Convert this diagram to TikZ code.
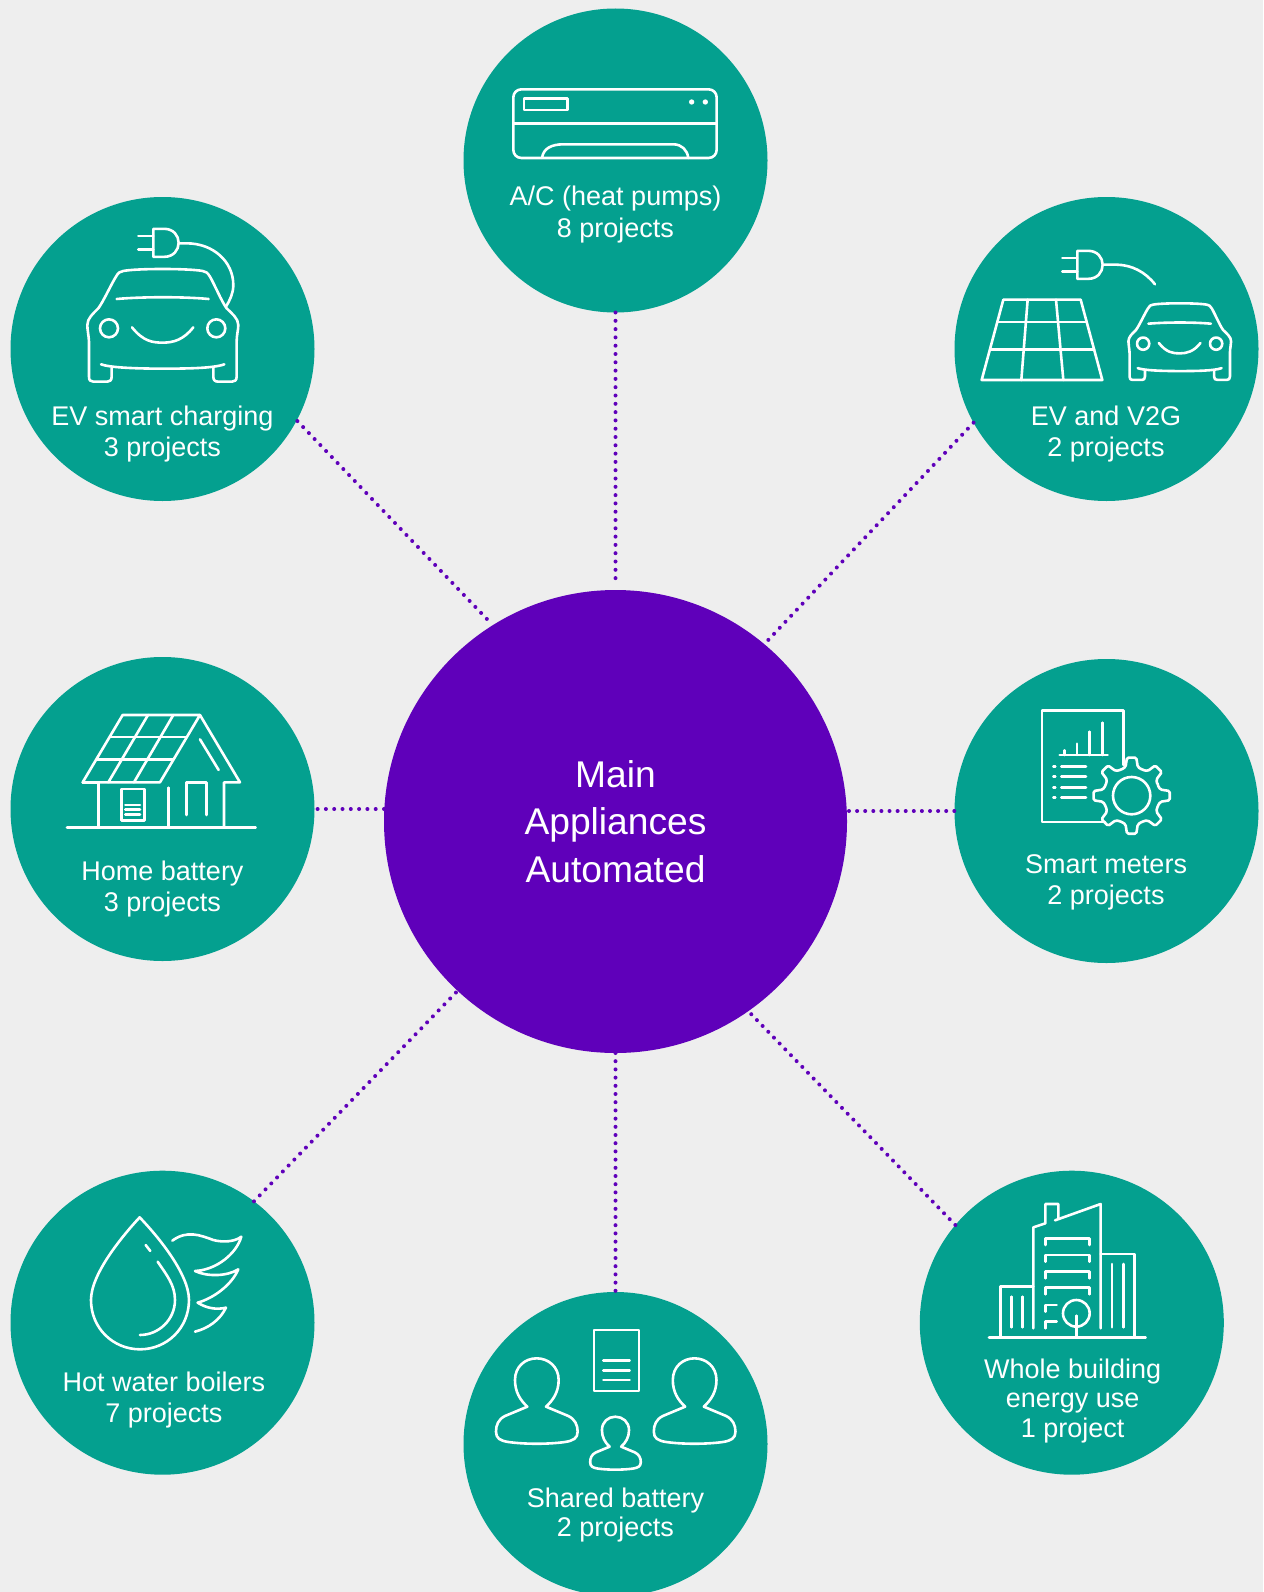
\documentclass[tikz,border=0pt]{standalone}
\usepackage{fontspec}
\setmainfont{Liberation Sans}
\usetikzlibrary{positioning}
\definecolor{pagegrey}{HTML}{EEEEEE}
\definecolor{appgreen}{HTML}{04A08F}
\definecolor{mainpurple}{HTML}{5F00BA}
\tikzset{
  hub/.style={circle, fill=mainpurple, text=white, minimum size=463pt, inner sep=0pt, outer sep=0pt, align=center,
    font=\fontsize{37.2}{47.3}\selectfont},
  appliance/.style={circle, fill=appgreen, minimum size=304pt, inner sep=0pt, outer sep=0pt},
  caption/.style={text=white, align=center, inner sep=0pt, font=\fontsize{27}{31.3}\selectfont},
  tightcaption/.style={caption, font=\fontsize{27}{29.6}\selectfont},
  link/.style={draw=mainpurple, line width=4pt, line cap=round, dash pattern=on 0pt off #1},
  link/.default=8.3pt,
  iconpart/.style={x=0.3333pt, y=-0.3333pt, white, line width=2.6pt, line cap=round, line join=round},
  carface/.pic={
    \begin{scope}[shift={(-458,-389)}]
      \draw (305,518) -- (305,545) .. controls (305,556) and (300,560) .. (292,560) -- (250,560)
        .. controls (241,560) and (237,556) .. (237,545) -- (237,440)
        .. controls (236,420) and (232,405) .. (232,390) .. controls (232,370) and (250,355) .. (265,340)
        .. controls (280,320) and (305,265) .. (318,245) .. controls (325,232) and (330,230) .. (340,228)
        .. controls (380,220) and (535,220) .. (578,228) .. controls (588,230) and (592,232) .. (600,245)
        .. controls (612,265) and (635,320) .. (650,340) .. controls (665,355) and (685,370) .. (685,390)
        .. controls (685,405) and (680,420) .. (680,440) -- (680,545)
        .. controls (680,556) and (675,560) .. (666,560) -- (625,560)
        .. controls (615,560) and (610,556) .. (610,545) -- (610,518);
      \draw (320,312) .. controls (400,305) and (520,305) .. (596,312);
      \draw (297,400) circle (27);
      \draw (619,400) circle (27);
      \draw (366,397) .. controls (400,440) and (430,443) .. (458,443) .. controls (490,443) and (520,435) .. (550,397);
      \draw (273,508) .. controls (300,518) and (380,521) .. (458,521) .. controls (530,521) and (610,520) .. (643,508);
    \end{scope}
  },
  plughead/.pic={
    \draw (0,-42) -- (33,-42) .. controls (60,-42) and (76,-22) .. (76,0) .. controls (76,22) and (60,42) .. (33,42) -- (0,42) -- cycle;
    \draw (-45,-20) -- (0,-20);
    \draw (-45,20) -- (0,20);
  },
  person/.pic={
    \begin{scope}[shift={(-215.5,-333)}]
      \draw (187,350) .. controls (165,330) and (150,305) .. (150,270) .. controls (150,230) and (180,205) .. (215,205)
        .. controls (250,205) and (281,230) .. (281,270) .. controls (281,305) and (265,330) .. (243,350) -- (310,378)
        .. controls (330,388) and (338,405) .. (338,425) .. controls (338,445) and (325,452) .. (300,456)
        .. controls (250,463) and (180,463) .. (130,456) .. controls (105,452) and (93,445) .. (93,425)
        .. controls (93,405) and (100,388) .. (120,378) -- cycle;
    \end{scope}
  }
}
\begin{document}
\begin{tikzpicture}[x=1pt, y=-1pt]
  \fill[pagegrey] (0,0) rectangle (1263,1592);
  \useasboundingbox (0,0) rectangle (1263,1592);

  \node[hub] (main) at (615.5,821.5) {Main\\Appliances\\Automated};
  \node[appliance, above=277.5pt of main] (accool) {};
  \node[appliance, below=239pt of main] (shared) {};
  \node[appliance, left=69.5pt of main, yshift=12.5pt] (homebatt) {};
  \node[appliance, right=107.5pt of main, yshift=10.5pt] (meters) {};
  \node[appliance, above=156pt of homebatt] (evcharge) {};
  \node[appliance, above=158pt of meters] (evgrid) {};
  \node[appliance, below=209.7pt of homebatt] (boilers) {};
  \node[appliance, below=207.7pt of meters, xshift=-34.7pt] (building) {};

  \node[caption] (accooltext) at (615.5,214.5) {A/C (heat pumps)\\8 projects};
  \node[caption] (evchargetext) at (162.5,434) {EV smart charging\\3 projects};
  \node[caption] (evgridtext) at (1106,434) {EV and V2G\\2 projects};
  \node[caption] (homebatttext) at (162.5,889) {Home battery\\3 projects};
  \node[caption] (meterstext) at (1106,882.5) {Smart meters\\2 projects};
  \node[caption] (boilerstext) at (164,1400) {Hot water boilers\\7 projects};
  \node[tightcaption] (sharedtext) at (615.5,1515) {Shared battery\\2 projects};
  \node[tightcaption] (buildingtext) at (1072.7,1401) {Whole building\\energy use\\1 project};

  \draw[link, shorten >=9pt] (accool.south) -- (main.north);
  \draw[link, shorten >=6pt, shorten <=1pt] (evcharge.-28.7) -- (main.122.5);
  \draw[link] (evgrid.209.5) -- (main.50.4);
  \draw[link] (homebatt.east -| main.west) -- (homebatt.east);
  \draw[link=8.1pt, shorten <=2pt] (meters.west -| main.east) -- (meters.west);
  \draw[link] (boilers.53) -- (main.227.2);
  \draw[link=8.2pt] (main.south) -- (shared.north);
  \draw[link=8.15pt] (building.140) -- (main.-55);

  % air conditioner
  \begin{scope}[shift={(460,0)}, iconpart]
    \draw[rounded corners=8pt] (160,268) rectangle (770,474);
    \draw (192,296) rectangle (322,330);
    \draw (160,371) -- (770,371);
    \fill (695,306) circle (8);
    \fill (736,306) circle (8);
    \draw (246,474) .. controls (250,445) and (275,433) .. (310,433) -- (640,433) .. controls (665,433) and (682,450) .. (685,474);
  \end{scope}

  % car on charge
  \begin{scope}[shift={(10,195)}, iconpart]
    \pic at (458,389) {carface};
    \pic at (430,143.5) {plughead};
    \draw (506,145) -- (530,145) .. controls (610,145) and (670,200) .. (670,270) .. controls (670,295) and (660,315) .. (648,335);
  \end{scope}

  % panel and car
  \begin{scope}[shift={(950,195)}, iconpart]
    \pic[scale=0.68] at (689,438.5) {carface};
    \pic at (382,209.5) {plughead};
    \draw (462,209) -- (500,209) .. controls (545,210) and (585,230) .. (615,268);
    \draw (160,314) -- (392,314) -- (457,555) -- (95,555) -- cycle;
    \draw (143,381) -- (410,381);
    \draw (122,464) -- (432,464);
    \draw (233,314) -- (214,555);
    \draw (318,314) -- (340,555);
  \end{scope}

  % house
  \begin{scope}[shift={(10,655)}, iconpart]
    \draw (171,518) -- (737,518);
    \draw (338,180) -- (570,180) -- (450,382) -- (218,382) -- cycle;
    \draw (300,246) -- (528,246);
    \draw (260,314) -- (488,314);
    \draw (414,180) -- (295,382);
    \draw (490,180) -- (372,382);
    \draw (570,180) -- (690,382) -- (642,382) -- (642,518);
    \draw (218,382) -- (265,382) -- (265,518);
    \draw (570,253) -- (626,345);
    \draw (529,480) -- (529,382) -- (590,382) -- (590,480);
    \draw (476,398) -- (476,518);
    \draw (334,402) rectangle (404,496);
    \foreach \liney in {450,464,479}
      \draw (346,\liney) -- (390,\liney);
  \end{scope}

  % report and gear
  \begin{scope}[shift={(950,655)}, iconpart]
    \draw (521,330) -- (521,167) -- (276,167) -- (276,501) -- (465,501);
    \draw (329,300) -- (473,300);
    \draw (344,286) -- (344,300);
    \draw (381,266) -- (381,300);
    \draw (419,230) -- (419,300);
    \draw (457,203) -- (457,300);
    \foreach \liney in {334,364,397,427} {
      \draw (310,\liney) -- (316,\liney);
      \draw (334,\liney) -- (408,\liney);
    }
    \begin{scope}[shift={(545,422)}]
      \draw (0,0) circle (56);
      \draw[rounded corners=1.5pt] (-22.5:84) \foreach \a in {0,45,...,315} {
        -- (\a-12:88) -- (\a-7:115) -- (\a+7:115) -- (\a+12:88) -- (\a+22.5:84)} -- cycle;
    \end{scope}
  \end{scope}

  % drop and flames
  \begin{scope}[shift={(10,1170)}, iconpart]
    \draw (389,142) .. controls (440,195) and (537,310) .. (537,390) .. controls (537,475) and (470,538) .. (390,538)
      .. controls (310,538) and (243,475) .. (243,390) .. controls (243,310) and (340,195) .. (389,142) -- cycle;
    \draw (407,225) -- (421,243);
    \draw (443,275) .. controls (470,315) and (495,345) .. (495,390) .. controls (495,450) and (445,495) .. (390,495);
    \draw (487,212) .. controls (530,180) and (570,195) .. (610,210) .. controls (640,218) and (675,215) .. (694,200)
      .. controls (680,250) and (620,300) .. (555,303) .. controls (590,320) and (650,320) .. (685,298)
      .. controls (665,345) and (610,385) .. (563,398) .. controls (590,415) and (620,420) .. (648,413)
      .. controls (630,450) and (595,475) .. (555,485);
  \end{scope}

  % people and document
  \begin{scope}[shift={(465,1290)}, iconpart]
    \draw (387,120) rectangle (522,303);
    \foreach \liney in {212,241,270}
      \draw (415,\liney) -- (494,\liney);
    \pic at (215.5,333) {person};
    \pic at (689,333) {person};
    \pic[scale=0.62] at (451.5,459.5) {person};
  \end{scope}

  % buildings
  \begin{scope}[shift={(915,1170)}, iconpart]
    \draw (222,502) -- (692,502);
    \draw (257,502) -- (257,349) -- (355,349);
    \draw (355,475) -- (355,172) -- (391,160) -- (391,102) -- (430,102) -- (430,146);
    \draw (420,151) -- (557,102) -- (557,475);
    \draw (557,252) -- (659,252) -- (659,502);
    \draw (289,380) -- (289,472);
    \draw (322,380) -- (322,472);
    \draw (591,282) -- (591,472);
    \draw (625,282) -- (625,472);
    \foreach \liney in {205,255,305,353}
      \draw (391,\liney+20) -- (391,\liney) -- (523,\liney) -- (523,\liney+20);
    \draw (391,425) -- (391,405) -- (425,405);
    \draw (391,475) -- (391,455) -- (425,455);
    \draw (484,430) circle (40);
    \draw (484,437) -- (484,502);
  \end{scope}
\end{tikzpicture}
\end{document}
